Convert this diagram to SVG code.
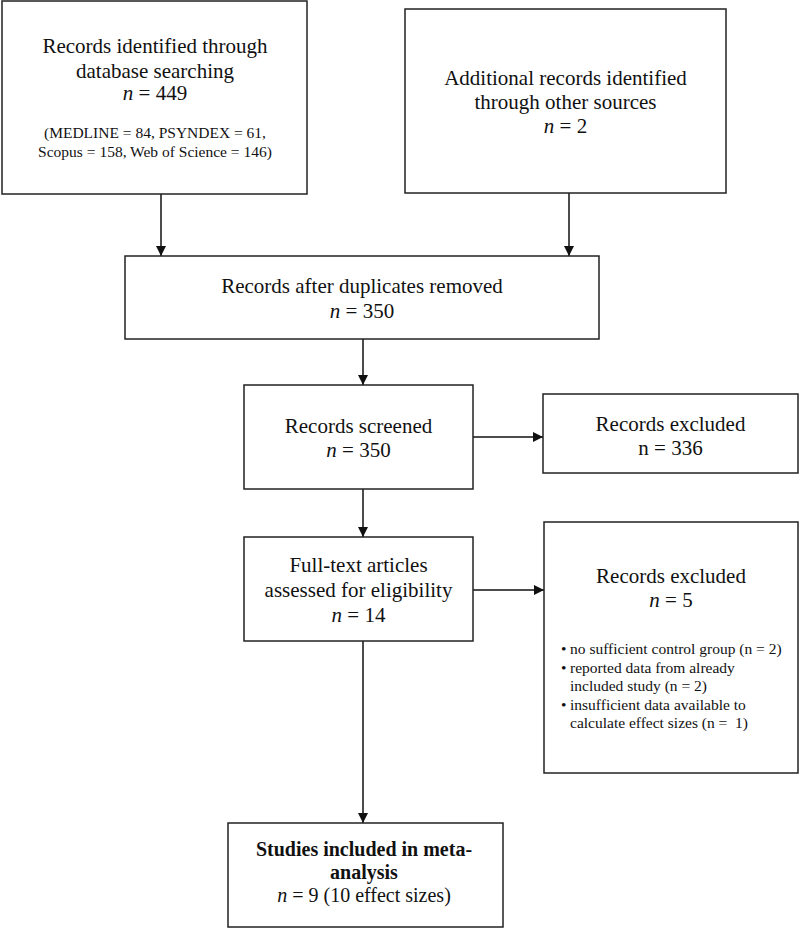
<svg xmlns="http://www.w3.org/2000/svg" width="800" height="929" viewBox="0 0 800 929">
<style>
.box{fill:#fff;stroke:#222;stroke-width:1.5}
.edge{fill:none;stroke:#111;stroke-width:1.5}
text{font-family:"Liberation Serif","Times New Roman",serif;fill:#111}
.t{font-size:21px;text-anchor:middle}
.f{font-size:20px;text-anchor:middle}
.s{font-size:15.5px;text-anchor:middle}
.b{font-size:15.5px}
.bold{font-weight:bold}
.i{font-style:italic}
</style>
<defs>
<marker id="arr" viewBox="0 0 10 10" refX="10" refY="5" markerWidth="10" markerHeight="10" markerUnits="userSpaceOnUse" orient="auto">
<path d="M0,0 L10,5 L0,10 Z" fill="#111"/>
</marker>
</defs>
<rect width="800" height="929" fill="#fff"/>
<g id="connectors">
<line class="edge" x1="161" y1="194" x2="161" y2="256" marker-end="url(#arr)"/>
<line class="edge" x1="569" y1="193" x2="569" y2="256" marker-end="url(#arr)"/>
<line class="edge" x1="363" y1="339" x2="363" y2="385" marker-end="url(#arr)"/>
<line class="edge" x1="473" y1="437" x2="543" y2="437" marker-end="url(#arr)"/>
<line class="edge" x1="363" y1="489" x2="363" y2="537" marker-end="url(#arr)"/>
<line class="edge" x1="473" y1="590" x2="544" y2="590" marker-end="url(#arr)"/>
<line class="edge" x1="363" y1="641" x2="363" y2="823" marker-end="url(#arr)"/>
</g>
<g id="identified">
<rect class="box" x="2" y="1" width="305" height="193"/>
<text class="t" x="155" y="53">Records identified through</text>
<text class="t" x="155" y="78">database searching</text>
<text class="t" x="155" y="100"><tspan class="i">n</tspan> = 449</text>
<text class="s" x="155" y="138">(MEDLINE = 84, PSYNDEX = 61,</text>
<text class="s" x="155" y="157">Scopus = 158, Web of Science = 146)</text>
</g>
<g id="additional">
<rect class="box" x="405" y="9" width="321" height="184"/>
<text class="t" x="565.5" y="85">Additional records identified</text>
<text class="t" x="565.5" y="109">through other sources</text>
<text class="t" x="565.5" y="133"><tspan class="i">n</tspan> = 2</text>
</g>
<g id="duplicates">
<rect class="box" x="125" y="256" width="474" height="83"/>
<text class="t" x="362" y="293">Records after duplicates removed</text>
<text class="t" x="362" y="318"><tspan class="i">n</tspan> = 350</text>
</g>
<g id="screened">
<rect class="box" x="244" y="385" width="229" height="104"/>
<text class="t" x="358.5" y="433">Records screened</text>
<text class="t" x="358.5" y="457"><tspan class="i">n</tspan> = 350</text>
</g>
<g id="excluded1">
<rect class="box" x="543" y="394" width="255" height="79"/>
<text class="t" x="670.5" y="431">Records excluded</text>
<text class="t" x="670.5" y="455">n = 336</text>
</g>
<g id="fulltext">
<rect class="box" x="244" y="537" width="229" height="104"/>
<text class="t" x="358.5" y="572">Full-text articles</text>
<text class="t" x="358.5" y="597">assessed for eligibility</text>
<text class="t" x="358.5" y="622"><tspan class="i">n</tspan> = 14</text>
</g>
<g id="excluded2">
<rect class="box" x="544" y="522" width="254" height="251"/>
<text class="t" x="671" y="583">Records excluded</text>
<text class="t" x="671" y="607"><tspan class="i">n</tspan> = 5</text>
<text class="b" x="561" y="654">•</text>
<text class="b" x="570" y="654">no sufficient control group (n = 2)</text>
<text class="b" x="561" y="672.5">•</text>
<text class="b" x="570" y="672.5">reported data from already</text>
<text class="b" x="570" y="691">included study (n = 2)</text>
<text class="b" x="561" y="709.5">•</text>
<text class="b" x="570" y="709.5">insufficient data available to</text>
<text class="b" x="570" y="728" xml:space="preserve">calculate effect sizes (n =  1)</text>
</g>
<g id="included">
<rect class="box" x="228" y="823" width="275" height="104"/>
<text class="f bold" x="364" y="856">Studies included in meta-</text>
<text class="f bold" x="364" y="879">analysis</text>
<text class="f" x="364" y="902"><tspan class="i">n</tspan> = 9 (10 effect sizes)</text>
</g>
</svg>
